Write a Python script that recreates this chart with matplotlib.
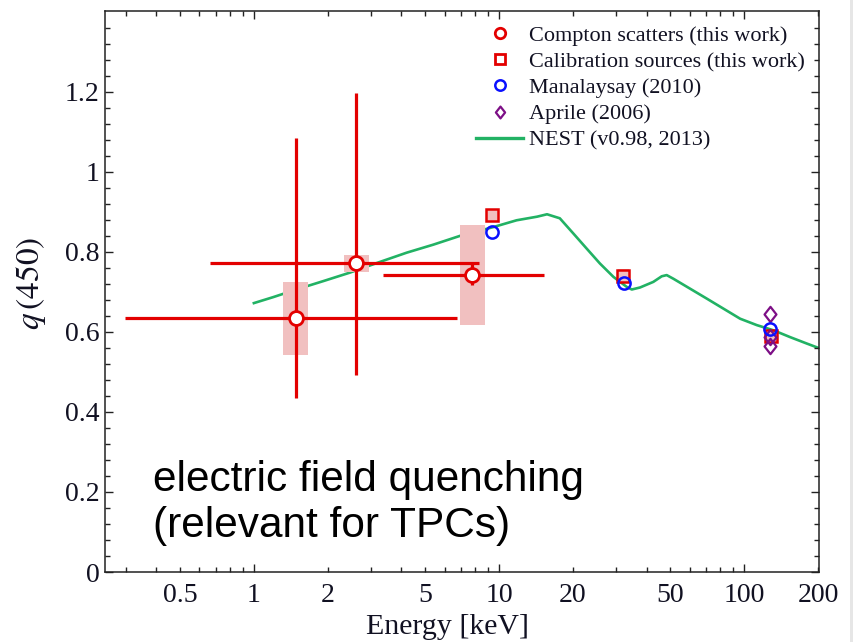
import matplotlib
matplotlib.use("Agg")
import matplotlib.pyplot as plt
from matplotlib.ticker import FixedLocator, FixedFormatter, NullFormatter
from matplotlib.lines import Line2D
from matplotlib.patches import Rectangle
from matplotlib.path import Path
import numpy as np

# ---- Compton scatters (this work) ----
compton_E = [1.48, 2.61, 7.78]
compton_q = [0.634, 0.772, 0.742]
compton_E_lo = [0.298, 0.661, 3.37]
compton_E_hi = [6.76, 8.28, 15.3]
compton_q_lo = [0.434, 0.492, 0.717]
compton_q_hi = [1.084, 1.196, 0.772]
compton_sys_lo = [0.542, 0.750, 0.618]
compton_sys_hi = [0.725, 0.793, 0.867]

# ---- Calibration sources (this work) ----
calib_E = [9.4, 32.1, 129.0]
calib_q = [0.893, 0.740, 0.589]
calib_sys_lo = [0.874, 0.722, 0.578]
calib_sys_hi = [0.905, 0.756, 0.600]

# ---- Manalaysay (2010) ----
mana_E = [9.4, 32.4, 127.0]
mana_q = [0.850, 0.723, 0.608]

# ---- Aprile (2006) ----
aprile_E = [127.0, 127.0, 127.0]
aprile_q = [0.646, 0.587, 0.566]

# ---- NEST (v0.98, 2013) ----
nest_E = [1.0, 1.20, 1.49, 1.92, 2.46, 3.27, 4.20, 5.39, 6.93, 9.48, 11.8,
          14.3, 15.7, 17.7, 20.1, 22.8, 25.8, 29.3, 33.2, 34.8, 37.6,
          42.6, 46.1, 48.3, 51.4, 60.2, 70.5, 82.4, 96.3, 112.6, 131.8, 154.0,
          180.0, 201.0]
nest_q = [0.672, 0.687, 0.706, 0.727, 0.748, 0.775, 0.798, 0.818, 0.840,
          0.862, 0.879, 0.888, 0.894, 0.884, 0.846, 0.808, 0.771,
          0.7375, 0.7125, 0.706, 0.711, 0.725, 0.739, 0.742, 0.733, 0.708,
          0.683, 0.658, 0.633, 0.617, 0.604, 0.587, 0.571, 0.560]

# ---- axis ticks ----
x_major = [1, 10, 100]
x_major_labels = ["1", "10", "100"]
x_minor = [0.3, 0.4, 0.5, 0.6, 0.7, 0.8, 0.9, 2, 3, 4, 5, 6, 7, 8, 9,
           20, 30, 40, 50, 60, 70, 80, 90, 200]
x_minor_labels = ["", "", "0.5", "", "", "", "", "2", "", "", "5", "", "", "", "",
                  "20", "", "", "50", "", "", "", "", "200"]
y_major = [0, 0.2, 0.4, 0.6, 0.8, 1.0, 1.2]
y_major_labels = ["0", "0.2", "0.4", "0.6", "0.8", "1", "1.2"]

RED = "#e30000"
PINK = "#f1c0c0"
GREEN = "#22b264"
BLUE = "#0a10ff"
PURPLE = "#7d0f86"
INK = "#111122"
SERIF = ["Liberation Serif", "DejaVu Serif"]

# slightly squat diamond marker
DIAMOND = Path([(0, 1), (0.78, 0), (0, -1), (-0.78, 0), (0, 1)],
               [Path.MOVETO, Path.LINETO, Path.LINETO, Path.LINETO, Path.CLOSEPOLY])

plt.rcParams["mathtext.fontset"] = "stix"

fig = plt.figure(figsize=(8.54, 6.42), dpi=100)
ax = fig.add_axes([105 / 854, 1 - 572 / 642, 714 / 854, 561 / 642])
ax.set_xscale("log")
ax.set_xlim(0.247, 202)
ax.set_ylim(0, 1.402)

# NEST curve
ax.plot(nest_E, nest_q, color=GREEN, lw=1.9, zorder=1, solid_joinstyle="round")

# systematic boxes for Compton points (constant width in log space)
half_w = 10 ** 0.051
for E, lo, hi in zip(compton_E, compton_sys_lo, compton_sys_hi):
    ax.add_patch(Rectangle((E / half_w, lo), E * half_w - E / half_w, hi - lo,
                           facecolor=PINK, edgecolor="none", zorder=2))

# systematic boxes for calibration sources
half_c = 10 ** 0.022
for E, lo, hi in zip(calib_E, calib_sys_lo, calib_sys_hi):
    ax.add_patch(Rectangle((E / half_c, lo), E * half_c - E / half_c, hi - lo,
                           facecolor=PINK, edgecolor="none", zorder=2))

# Compton error bars
cE = np.array(compton_E)
cq = np.array(compton_q)
xerr = [cE - np.array(compton_E_lo), np.array(compton_E_hi) - cE]
yerr = [cq - np.array(compton_q_lo), np.array(compton_q_hi) - cq]
ax.errorbar(cE, cq, xerr=xerr, yerr=yerr, fmt="none", ecolor=RED,
            elinewidth=2.3, capsize=0, zorder=3)
ax.plot(cE, cq, "o", ms=10, mfc="white", mec=RED, mew=2.0, zorder=5)

# calibration sources
ax.plot(calib_E, calib_q, "s", ms=9, mfc="none", mec=RED, mew=1.8, zorder=4)

# Aprile
ax.plot(aprile_E, aprile_q, ls="none", marker=DIAMOND, ms=11, mfc="none",
        mec=PURPLE, mew=1.6, zorder=5)

# Manalaysay
ax.plot(mana_E, mana_q, "o", ms=8.8, mfc="none", mec=BLUE, mew=1.8, zorder=6)

# ticks
ax.xaxis.set_major_locator(FixedLocator(x_major))
ax.xaxis.set_major_formatter(FixedFormatter(x_major_labels))
ax.xaxis.set_minor_locator(FixedLocator(x_minor))
ax.xaxis.set_minor_formatter(FixedFormatter(x_minor_labels))
ax.yaxis.set_major_locator(FixedLocator(y_major))
ax.yaxis.set_major_formatter(FixedFormatter(y_major_labels))
ax.yaxis.set_minor_locator(FixedLocator(np.arange(0.04, 1.40, 0.04)))
ax.yaxis.set_minor_formatter(NullFormatter())

ax.tick_params(which="both", direction="in", top=True, right=True,
               colors="#222222", width=1.0)
ax.tick_params(which="major", length=6)
ax.tick_params(which="minor", length=3.6)
ax.tick_params(axis="x", which="both", pad=8, labelsize=20)
ax.tick_params(axis="y", which="both", pad=4, labelsize=20)
for lab in ax.get_xticklabels(which="both") + ax.get_yticklabels():
    lab.set_family(SERIF)
    lab.set_color(INK)
for s in ax.spines.values():
    s.set_linewidth(1.1)
    s.set_color("#222222")

ax.set_xlabel("Energy [keV]", family=SERIF, fontsize=21.5, color=INK, labelpad=0)
ax.xaxis.set_label_coords(0.48, -0.074)
ax.set_ylabel(r"$q\,(450)$", fontsize=24, color=INK)
ax.yaxis.set_label_coords(-0.08, 0.515)

# legend
handles = [
    Line2D([], [], ls="none", marker="o", ms=7.5, mfc="white", mec=RED, mew=2.0),
    Line2D([], [], ls="none", marker="s", ms=7, mfc="white", mec=RED, mew=2.0),
    Line2D([], [], ls="none", marker="o", ms=7.5, mfc="white", mec=BLUE, mew=1.8),
    Line2D([], [], ls="none", marker=DIAMOND, ms=8.5, mfc="white", mec=PURPLE, mew=1.6),
    Line2D([], [], color=GREEN, lw=2.4),
]
labels = ["Compton scatters (this work)", "Calibration sources (this work)",
          "Manalaysay (2010)", "Aprile (2006)", "NEST (v0.98, 2013)"]
leg = ax.legend(handles, labels, loc="upper right", bbox_to_anchor=(1.0, 1.0),
                frameon=False, prop={"family": SERIF, "size": 16},
                handlelength=2.1, handletextpad=0.25, labelspacing=0.25,
                borderaxespad=0.25, borderpad=0.4)
for t in leg.get_texts():
    t.set_color(INK)

# annotation
ax.text(0.067, 0.200, "electric field quenching\n(relevant for TPCs)",
        transform=ax.transAxes, ha="left", va="top",
        family=["Liberation Sans", "DejaVu Sans"], fontsize=30.5,
        linespacing=1.2, color="black")

# light strip at right edge of the image
fig.patches.append(Rectangle((850 / 854, 0), 4 / 854, 1, transform=fig.transFigure,
                             facecolor="#e6e6e6", edgecolor="none"))

fig.savefig("out.png", dpi=100)
